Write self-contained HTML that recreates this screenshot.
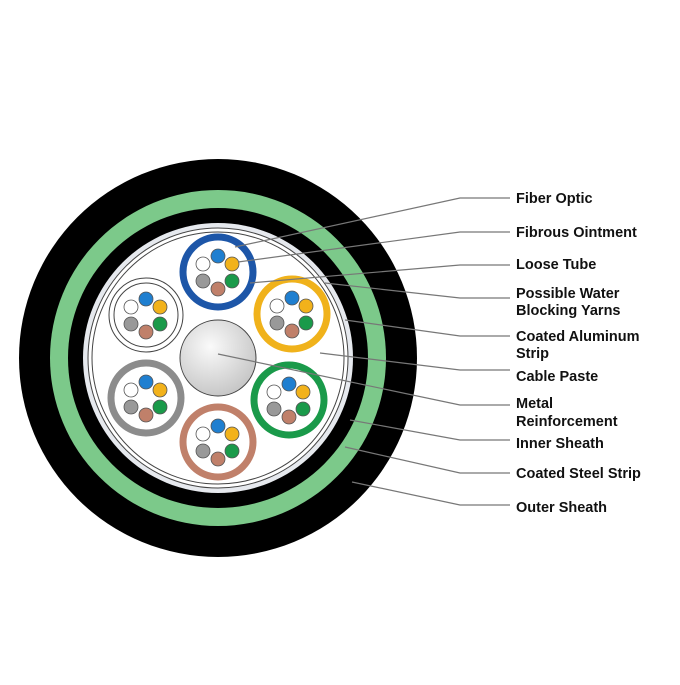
<!DOCTYPE html>
<html><head><style>
body{margin:0;background:#fff;}
text{font-family:"Liberation Sans",sans-serif;font-weight:bold;font-size:14.5px;fill:#111;}
</style></head><body>
<svg width="680" height="680" viewBox="0 0 680 680" xmlns="http://www.w3.org/2000/svg">
<defs>
<radialGradient id="rod" cx="40%" cy="35%" r="70%"><stop offset="0" stop-color="#fafafa"/><stop offset="1" stop-color="#c4c4c4"/></radialGradient>
<g id="fib">
<circle cx="0" cy="-16" r="7" fill="#1f7fd0" stroke="#555" stroke-width="0.8"/>
<circle cx="14" cy="-8" r="7" fill="#f2b21b" stroke="#555" stroke-width="0.8"/>
<circle cx="14" cy="9" r="7" fill="#1a9a4a" stroke="#555" stroke-width="0.8"/>
<circle cx="0" cy="17" r="7" fill="#c0806a" stroke="#555" stroke-width="0.8"/>
<circle cx="-15" cy="9" r="7" fill="#999" stroke="#555" stroke-width="0.8"/>
<circle cx="-15" cy="-8" r="7" fill="#fff" stroke="#555" stroke-width="0.8"/>
</g>
</defs>
<circle cx="218" cy="358" r="199" fill="#000"/>
<circle cx="218" cy="358" r="168" fill="#7cc98a"/>
<circle cx="218" cy="358" r="150" fill="#000"/>
<circle cx="218" cy="358" r="135" fill="#e6e9ee"/>
<circle cx="218" cy="358" r="130" fill="#fff" stroke="#444" stroke-width="1"/>
<circle cx="218" cy="358" r="126" fill="#fff" stroke="#444" stroke-width="1"/>
<circle cx="218" cy="358" r="38" fill="url(#rod)" stroke="#444" stroke-width="1"/>
<g transform="translate(218,272)"><circle r="35" fill="#fff" stroke="#1d56a8" stroke-width="7"/><use href="#fib"/></g>
<g transform="translate(292,314)"><circle r="35" fill="#fff" stroke="#f0b21b" stroke-width="7"/><use href="#fib"/></g>
<g transform="translate(289,400)"><circle r="35" fill="#fff" stroke="#1a9a4a" stroke-width="7"/><use href="#fib"/></g>
<g transform="translate(218,442)"><circle r="35" fill="#fff" stroke="#c0806a" stroke-width="7"/><use href="#fib"/></g>
<g transform="translate(146,398)"><circle r="35" fill="#fff" stroke="#8c8c8c" stroke-width="7"/><use href="#fib"/></g>
<g transform="translate(146,315)"><circle r="37" fill="#fff" stroke="#444" stroke-width="1"/><circle r="32" fill="#fff" stroke="#444" stroke-width="1"/><use href="#fib"/></g>
<g stroke="#777" stroke-width="1.2" fill="none">
<polyline points="235,247 460,198 510,198"/>
<polyline points="238,262 460,232 510,232"/>
<polyline points="250,283 460,265 510,265"/>
<polyline points="325,283 460,298 510,298"/>
<polyline points="345,320 460,336 510,336"/>
<polyline points="320,353 460,370 510,370"/>
<polyline points="218,354 460,405 510,405"/>
<polyline points="350,420 460,440 510,440"/>
<polyline points="345,447 460,473 510,473"/>
<polyline points="352,482 460,505 510,505"/>
</g>
<text x="516" y="203">Fiber Optic</text>
<text x="516" y="237">Fibrous Ointment</text>
<text x="516" y="269">Loose Tube</text>
<text x="516" y="298">Possible Water</text>
<text x="516" y="315">Blocking Yarns</text>
<text x="516" y="341">Coated Aluminum</text>
<text x="516" y="358">Strip</text>
<text x="516" y="381">Cable Paste</text>
<text x="516" y="408">Metal</text>
<text x="516" y="426">Reinforcement</text>
<text x="516" y="448">Inner Sheath</text>
<text x="516" y="478">Coated Steel Strip</text>
<text x="516" y="512">Outer Sheath</text>
</svg>
</body></html>
